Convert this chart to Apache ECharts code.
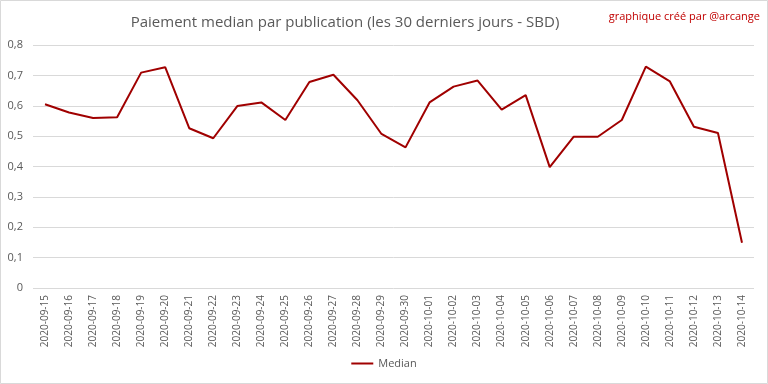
<!DOCTYPE html>
<html><head><meta charset="utf-8">
<script src="https://cdn.jsdelivr.net/npm/echarts@6/dist/echarts.min.js"></script>
<style>html,body{margin:0;padding:0;background:#fff}#c{width:768px;height:384px}</style>
</head><body><div id="c"></div>
<script>
const categories = ['2020-09-15','2020-09-16','2020-09-17','2020-09-18','2020-09-19','2020-09-20','2020-09-21','2020-09-22','2020-09-23','2020-09-24','2020-09-25','2020-09-26','2020-09-27','2020-09-28','2020-09-29','2020-09-30','2020-10-01','2020-10-02','2020-10-03','2020-10-04','2020-10-05','2020-10-06','2020-10-07','2020-10-08','2020-10-09','2020-10-10','2020-10-11','2020-10-12','2020-10-13','2020-10-14'];
const medianValues = [0.605,0.578,0.560,0.562,0.709,0.727,0.526,0.493,0.599,0.611,0.553,0.678,0.702,0.618,0.507,0.463,0.611,0.663,0.683,0.587,0.635,0.398,0.498,0.498,0.553,0.729,0.680,0.531,0.510,0.149];
const yTicks = [0,0.1,0.2,0.3,0.4,0.5,0.6,0.7,0.8];
const titleText = 'Paiement median par publication (les 30 derniers jours - SBD)';
const creditText = 'graphique créé par @arcange';
const seriesName = 'Median';

const FONT = '"Open Sans", sans-serif';
const chart = echarts.init(document.getElementById('c'), null, {renderer:'canvas'});
chart.setOption({
  animation:false,
  backgroundColor:'#fff',
  title:{text:titleText,left:340,top:10,textAlign:'center',
    textStyle:{color:'#595959',fontSize:15,fontWeight:'normal',fontFamily:FONT}},
  graphic:[
    {type:'text',right:8,top:11,style:{text:creditText,fill:'#c00000',font:'11px '+FONT}},
    {type:'rect',shape:{x:0.5,y:0.5,width:767,height:383},style:{fill:null,stroke:'#d9d9d9',lineWidth:1},silent:true}
  ],
  legend:{bottom:10,left:'center',itemWidth:22,itemHeight:2,icon:'rect',itemGap:4,
    textStyle:{color:'#595959',fontSize:11,fontFamily:FONT},data:[seriesName]},
  grid:{left:33,right:14,top:45,bottom:96,containLabel:false},
  xAxis:{type:'category',data:categories,boundaryGap:true,
    axisLine:{show:false},axisTick:{show:false},
    axisLabel:{rotate:90,interval:0,margin:7,color:'#595959',fontSize:10,fontFamily:FONT}},
  yAxis:{type:'value',min:0,max:0.8,interval:0.1,
    axisLine:{show:false},axisTick:{show:false},
    splitLine:{lineStyle:{color:'#d9d9d9',width:1}},
    axisLabel:{margin:10,color:'#595959',fontSize:11,fontFamily:FONT,
      formatter:v=>{const t=yTicks.find(x=>Math.abs(x-v)<1e-9);return (t===0?'0':String(Math.round(v*10)/10)).replace('.',',');}}},
  series:[{name:seriesName,type:'line',data:medianValues,showSymbol:false,symbol:'none',
    lineStyle:{color:'#a00000',width:2},itemStyle:{color:'#a00000'}}]
});
</script></body></html>
